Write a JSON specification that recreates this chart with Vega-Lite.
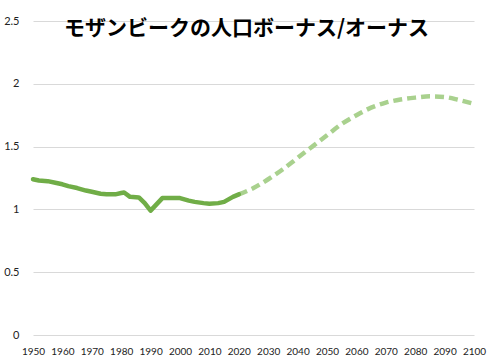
{
  "$schema": "https://vega.github.io/schema/vega-lite/v6.json",
  "width": 441,
  "height": 314,
  "autosize": "none",
  "padding": {"left": 33, "top": 21, "right": 19, "bottom": 25},
  "background": "white",
  "config": {"view": {"stroke": null}},
  "title": {
    "text": "モザンビークの人口ボーナス/オーナス",
    "font": "Noto Sans CJK JP",
    "fontSize": 21,
    "fontWeight": "bold",
    "color": "#000000",
    "anchor": "middle",
    "baseline": "bottom",
    "offset": -16,
    "dy": 29,
    "dx": -7
  },
  "datasets": {
    "hist": [
      {"year": 1950, "ratio": 1.24}, {"year": 1952, "ratio": 1.23}, {"year": 1955, "ratio": 1.225},
      {"year": 1958, "ratio": 1.21}, {"year": 1960, "ratio": 1.2}, {"year": 1962, "ratio": 1.185},
      {"year": 1965, "ratio": 1.17}, {"year": 1968, "ratio": 1.15}, {"year": 1970, "ratio": 1.14},
      {"year": 1973, "ratio": 1.125}, {"year": 1975, "ratio": 1.12}, {"year": 1978, "ratio": 1.12},
      {"year": 1980, "ratio": 1.13}, {"year": 1981, "ratio": 1.135}, {"year": 1983, "ratio": 1.1},
      {"year": 1986, "ratio": 1.095}, {"year": 1988, "ratio": 1.05}, {"year": 1990, "ratio": 0.99},
      {"year": 1992, "ratio": 1.04}, {"year": 1994, "ratio": 1.09}, {"year": 1996, "ratio": 1.09},
      {"year": 2000, "ratio": 1.09}, {"year": 2003, "ratio": 1.07}, {"year": 2005, "ratio": 1.06},
      {"year": 2008, "ratio": 1.05}, {"year": 2010, "ratio": 1.045}, {"year": 2013, "ratio": 1.05},
      {"year": 2015, "ratio": 1.06}, {"year": 2018, "ratio": 1.1}, {"year": 2020, "ratio": 1.12}
    ],
    "proj": [
      {"year": 2020, "ratio": 1.12}, {"year": 2025, "ratio": 1.17}, {"year": 2030, "ratio": 1.24},
      {"year": 2035, "ratio": 1.32}, {"year": 2040, "ratio": 1.41}, {"year": 2045, "ratio": 1.5},
      {"year": 2050, "ratio": 1.59}, {"year": 2055, "ratio": 1.68}, {"year": 2060, "ratio": 1.75},
      {"year": 2065, "ratio": 1.81}, {"year": 2070, "ratio": 1.85}, {"year": 2075, "ratio": 1.875},
      {"year": 2080, "ratio": 1.89}, {"year": 2085, "ratio": 1.9}, {"year": 2090, "ratio": 1.895},
      {"year": 2095, "ratio": 1.87}, {"year": 2100, "ratio": 1.84}
    ]
  },
  "encoding": {
    "x": {
      "field": "year",
      "type": "quantitative",
      "scale": {"domain": [1950, 2100], "nice": false, "zero": false},
      "axis": {
        "title": null,
        "values": [1950, 1960, 1970, 1980, 1990, 2000, 2010, 2020, 2030, 2040, 2050, 2060, 2070, 2080, 2090, 2100],
        "format": "d",
        "grid": false,
        "domain": false,
        "ticks": false,
        "labelFont": "Lato",
        "labelFontSize": 10,
        "labelColor": "#222222",
        "labelPadding": 11,
        "labelOverlap": false,
        "labelFlush": false
      }
    },
    "y": {
      "field": "ratio",
      "type": "quantitative",
      "scale": {"domain": [0, 2.5], "nice": false},
      "axis": {
        "title": null,
        "values": [0, 0.5, 1, 1.5, 2, 2.5],
        "format": "~g",
        "grid": true,
        "gridColor": "#d9d9d9",
        "gridWidth": 1,
        "domain": false,
        "ticks": false,
        "labelFont": "Lato",
        "labelFontSize": 11,
        "labelColor": "#222222",
        "labelPadding": 14
      }
    }
  },
  "layer": [
    {
      "data": {"name": "proj"},
      "mark": {"type": "line", "color": "#a9d18e", "strokeWidth": 4.5, "strokeDash": [9, 5], "interpolate": "monotone"}
    },
    {
      "data": {"name": "hist"},
      "mark": {"type": "line", "color": "#70ad47", "strokeWidth": 4.5, "strokeCap": "round", "strokeJoin": "round"}
    }
  ]
}
